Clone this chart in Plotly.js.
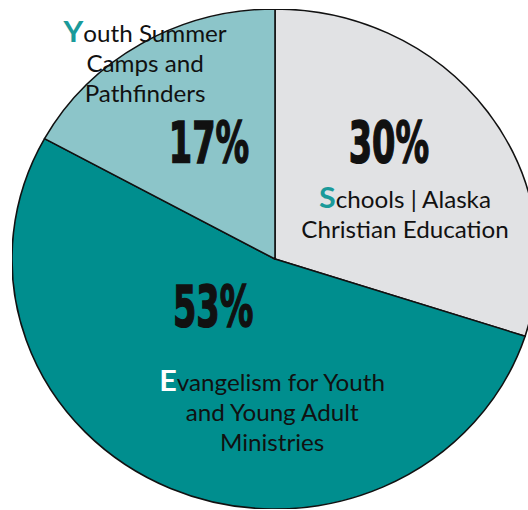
<!DOCTYPE html>
<html>
<head>
<meta charset="utf-8">
<script src="https://cdn.plot.ly/plotly-3.0.1.min.js"></script>
<style>
html, body { margin: 0; padding: 0; background: #ffffff; overflow: hidden; width: 528px; height: 510px; }
#chart { position: absolute; left: 25px; top: 9px; width: 500px; height: 500px;
  transform: scaleX(1.052); transform-origin: 250px 250px; }
</style>
</head>
<body>
<div id="chart"></div>
<script>
// Data
const categories = ["Schools | Alaska Christian Education",
                    "Evangelism for Youth and Young Adult Ministries",
                    "Youth Summer Camps and Pathfinders"];
const values = [30, 53, 17];
const percentLabels = ["30%", "53%", "17%"];
const sliceColors = ["#E1E2E4", "#008E8E", "#8CC5C9"];
const firstLetters = ["S", "E", "Y"];
const labelRest = [["chools | Alaska", "Christian Education"],
                   ["vangelism for Youth", "and Young Adult", "Ministries"],
                   ["outh Summer", "Camps and", "Pathfinders"]];
const letterColors = ["#1A9A9A", "#FFFFFF", "#1A9A9A"];

const labelFont = "Lato, 'Noto Sans', sans-serif";
const pctFont = "'DejaVu Sans', 'Liberation Sans', sans-serif";

function blockText(i) {
  const lines = labelRest[i].slice();
  lines[0] = '<span style="font-size:29px;font-weight:bold;color:' + letterColors[i] + '">' +
             firstLetters[i] + '</span>' + lines[0];
  return lines.join('<br>');
}

const trace = {
  type: 'pie',
  labels: categories,
  values: values,
  sort: false,
  direction: 'clockwise',
  rotation: 0,
  textinfo: 'none',
  hoverinfo: 'none',
  marker: { colors: sliceColors, line: { color: '#111111', width: 1.5 } },
  domain: { x: [0, 1], y: [0, 1] },
  showlegend: false
};

// annotation placements (paper coords)
const pctPos = [[0.715, 0.732], [0.382, 0.404], [0.373, 0.732]];
const blockPos = [[0.747, 0.596], [0.494, 0.2], [0.253, 0.898]];

const annotations = [];
for (let i = 0; i < categories.length; i++) {
  annotations.push({
    xref: 'paper', yref: 'paper', x: pctPos[i][0], y: pctPos[i][1],
    xanchor: 'center', yanchor: 'middle', showarrow: false,
    text: '<b>' + percentLabels[i] + '</b>',
    font: { family: pctFont, size: 57, color: '#111111' }
  });
  annotations.push({
    xref: 'paper', yref: 'paper', x: blockPos[i][0], y: blockPos[i][1],
    xanchor: 'center', yanchor: 'middle', showarrow: false, align: 'center',
    text: blockText(i),
    font: { family: labelFont, size: 23, color: '#111111' }
  });
}

const layout = {
  width: 500, height: 500,
  margin: { l: 0, r: 0, t: 0, b: 0 },
  paper_bgcolor: 'rgba(0,0,0,0)',
  plot_bgcolor: 'rgba(0,0,0,0)',
  showlegend: false,
  annotations: annotations
};

Plotly.newPlot('chart', [trace], layout, { staticPlot: true, displayModeBar: false }).then(function () {
  // condense and thicken the percentage figures (Impact-like narrow lettering)
  document.querySelectorAll('#chart text.annotation-text').forEach(function (t) {
    if (percentLabels.indexOf(t.textContent.trim()) >= 0) {
      t.style.transformBox = 'fill-box';
      t.style.transformOrigin = 'center';
      t.style.transform = 'scale(0.56, 1)';
      t.style.stroke = '#111111';
      t.style.strokeWidth = '1.6px';
    }
  });
});
</script>
</body>
</html>
